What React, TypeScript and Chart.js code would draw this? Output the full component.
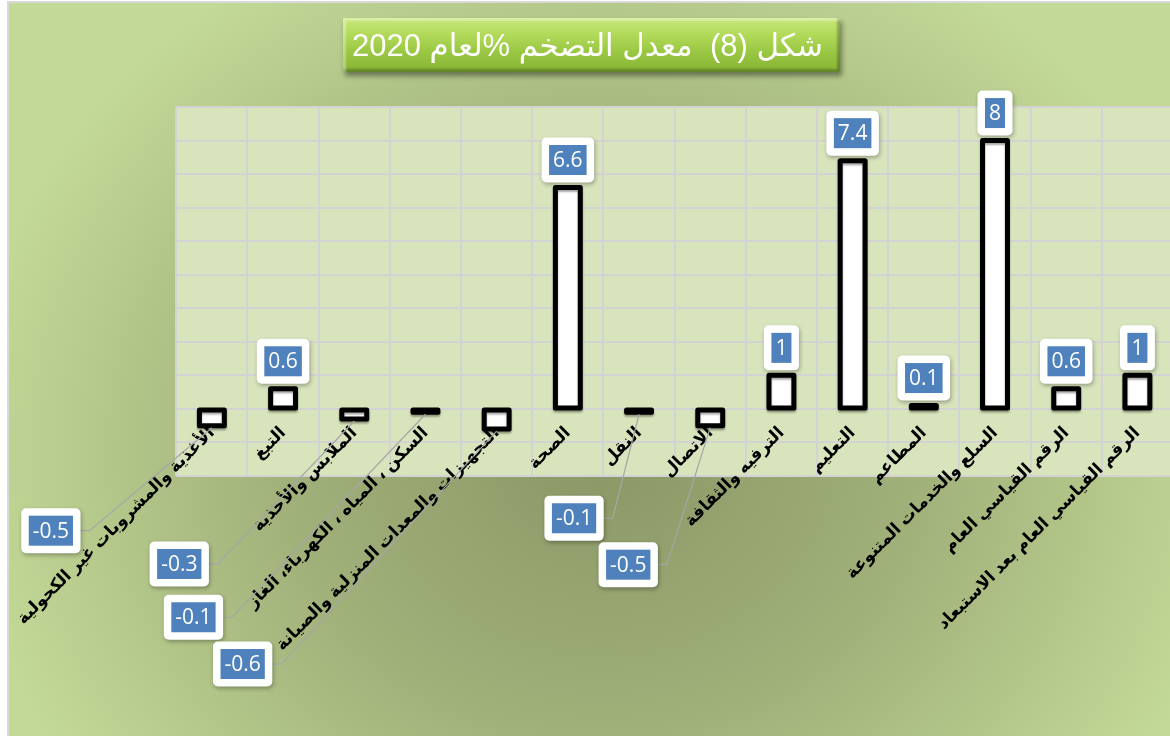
import React, { useEffect, useRef } from "react";
import { Chart, registerables } from "chart.js";

Chart.register(...registerables);

// ---------------- data ----------------
const categories: string[] = [
  "الأغذية والمشروبات غير الكحولية",
  "التبغ",
  "الملابس والأحذية",
  "السكن ، المياه ، الكهرباء، الغاز",
  "التجهيزات والمعدات المنزلية والصيانة",
  "الصحة",
  "النقل",
  "الاتصال",
  "الترفيه والثقافة",
  "التعليم",
  "المطاعم",
  "السلع والخدمات المتنوعة",
  "الرقم القياسي العام",
  "الرقم القياسي العام بعد الاستبعاد",
];
const inflation2020: number[] = [-0.5, 0.6, -0.3, -0.1, -0.6, 6.6, -0.1, -0.5, 1, 7.4, 0.1, 8, 0.6, 1];
const yMin = -2;
const yMax = 9;
const yStep = 1;
const titleText = "شكل (8)  معدل التضخم %لعام 2020";

// layout only: where the callout labels of negative bars sit (relative to bar end)
const calloutOffsets: Record<number, [number, number]> = {
  0: [-161, 105],
  2: [-175, 145],
  3: [-232, 205],
  4: [-254, 235],
  6: [-65, 106],
  7: [-82, 139],
};

const GRID = "#d3d3d3";
const PLOT_BG = "#d8e4bc";
const LABEL_FONT = "21px 'Open Sans'";

const plotBg = {
  id: "plotBg",
  beforeDraw(chart: any) {
    const { ctx, chartArea: a } = chart;
    ctx.save();
    ctx.fillStyle = PLOT_BG;
    ctx.fillRect(a.left, a.top, a.right - a.left, a.bottom - a.top);
    ctx.restore();
  },
};

function drawLabel(ctx: CanvasRenderingContext2D, text: string, cx: number, cy: number) {
  ctx.font = LABEL_FONT;
  const tw = ctx.measureText(text).width;
  const bw = tw + 8;
  const bh = 30;
  const ow = bw + 15;
  const oh = bh + 15;
  ctx.save();
  ctx.shadowColor = "rgba(0,0,0,0.3)";
  ctx.shadowBlur = 4;
  ctx.shadowOffsetX = 1;
  ctx.shadowOffsetY = 2;
  ctx.fillStyle = "#ffffff";
  ctx.beginPath();
  (ctx as any).roundRect(cx - ow / 2, cy - oh / 2, ow, oh, 5);
  ctx.fill();
  ctx.restore();
  ctx.fillStyle = "#4f81bd";
  ctx.fillRect(cx - bw / 2, cy - bh / 2, bw, bh);
  ctx.fillStyle = "#ffffff";
  ctx.textAlign = "center";
  ctx.textBaseline = "middle";
  ctx.fillText(text, cx, cy + 1);
}

const barDecor = {
  id: "barDecor",
  afterDatasetsDraw(chart: any) {
    const { ctx } = chart;
    const meta = chart.getDatasetMeta(0);
    const values = chart.data.datasets[0].data as number[];
    // outlines
    ctx.save();
    ctx.strokeStyle = "#000000";
    ctx.lineWidth = 5;
    ctx.lineJoin = "round";
    ctx.shadowColor = "rgba(0,0,0,0.35)";
    ctx.shadowBlur = 2;
    ctx.shadowOffsetY = 2;
    meta.data.forEach((el: any) => {
      const top = Math.min(el.y, el.base);
      const h = Math.abs(el.base - el.y);
      ctx.strokeRect(el.x - el.width / 2, top, el.width, h);
    });
    ctx.restore();
    // labels
    meta.data.forEach((el: any, i: number) => {
      const v = values[i];
      const text = String(v);
      if (v >= 0) {
        drawLabel(ctx, text, el.x, el.y - 5 - 45 / 2);
      } else {
        const off = calloutOffsets[i] || [-60, 80];
        const cx = el.x + off[0];
        const cy = el.y + off[1];
        ctx.font = LABEL_FONT;
        const tw = ctx.measureText(text).width;
        const ow = tw + 8 + 15;
        const right = cx + ow / 2;
        ctx.save();
        ctx.strokeStyle = "#a6a6a6";
        ctx.lineWidth = 1.2;
        ctx.beginPath();
        ctx.moveTo(right, cy);
        ctx.lineTo(right + 9, cy);
        ctx.lineTo(el.x, el.y + 2);
        ctx.stroke();
        ctx.restore();
        drawLabel(ctx, text, cx, cy);
      }
    });
  },
};

export default function App() {
  const ref = useRef<HTMLCanvasElement | null>(null);
  useEffect(() => {
    if (!ref.current) return;
    const chart = new Chart(ref.current, {
      type: "bar",
      data: {
        labels: categories,
        datasets: [
          {
            data: inflation2020,
            backgroundColor: "#ffffff",
            borderWidth: 0,
            barPercentage: 0.35,
            categoryPercentage: 1,
          },
        ],
      },
      options: {
        responsive: false,
        animation: false,
        devicePixelRatio: 1,
        layout: { padding: { left: 175, top: 107, right: 7, bottom: 260 } },
        plugins: {
          legend: { display: false },
          tooltip: { enabled: false },
          title: { display: false },
        },
        scales: {
          x: {
            position: { y: 0 } as any,
            offset: true,
            grid: { offset: true, color: GRID, lineWidth: 2, drawTicks: false },
            border: { display: false },
            ticks: {
              autoSkip: false,
              minRotation: 45,
              maxRotation: 45,
              color: "#000000",
              padding: 14,
              font: { family: "'Liberation Sans', 'DejaVu Sans'", size: 17, weight: "bold" },
            },
          },
          y: {
            min: yMin,
            max: yMax,
            ticks: { stepSize: yStep, display: false },
            grid: { color: GRID, lineWidth: 2, drawTicks: false },
            border: { display: false },
          },
        },
      },
      plugins: [plotBg, barDecor],
    });
    return () => chart.destroy();
  }, []);

  return (
    <div
      style={{
        position: "fixed",
        left: 0,
        top: 0,
        width: 1170,
        height: 736,
        overflow: "hidden",
        background: "#ffffff",
      }}
    >
      <div
        style={{
          position: "absolute",
          left: 7,
          top: 1,
          width: 1200,
          height: 800,
          borderLeft: "2px solid #d9d9d9",
          borderTop: "2px solid #d9d9d9",
          background:
            "radial-gradient(ellipse 640px 560px at 593px 450px, #8a9766 0%, #a1b17a 50%, #c3d997 100%)",
        }}
      />
      <canvas
        ref={ref}
        width={1180}
        height={736}
        style={{ position: "absolute", left: 0, top: 0, width: 1180, height: 736 }}
      />
      <div
        dir="rtl"
        style={{
          position: "absolute",
          left: 343,
          top: 18,
          width: 497,
          height: 54,
          boxSizing: "border-box",
          paddingLeft: 0,
          paddingRight: 8,
          display: "flex",
          alignItems: "center",
          justifyContent: "center",
          color: "#ffffff",
          fontFamily: "'Liberation Sans', 'DejaVu Sans', sans-serif",
          fontSize: 31,
          whiteSpace: "pre",
          background:
            "linear-gradient(to bottom, #c8e77a 0%, #b2da5a 30%, #9ac843 62%, #86b334 100%)",
          boxShadow:
            "inset 3px 3px 2px rgba(255,255,255,0.35), inset -3px -3px 2px rgba(0,0,0,0.25), 2px 4px 5px rgba(0,0,0,0.4)",
        }}
      >
        {titleText}
      </div>
    </div>
  );
}
